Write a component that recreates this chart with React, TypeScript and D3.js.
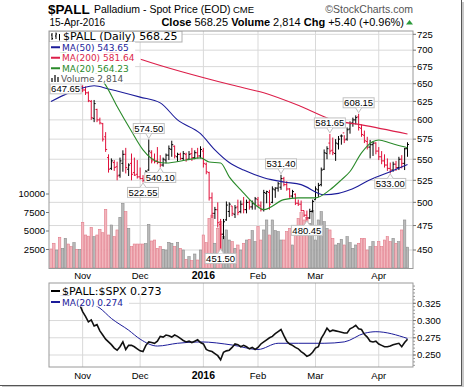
import * as d3 from "d3";

const W = 464;
const H = 387;
const LEFT = 49;
const RIGHT = 413;
const MAIN_TOP = 31;
const MAIN_BOTTOM = 268.5;
const LOW_TOP = 283;
const LOW_BOTTOM = 367;

const RED = "#e0103a";
const NAVY = "#1c1c9a";
const CRIMSON = "#dc1f4a";
const GREEN = "#2a8a2a";
const GRID = "#d9d9d9";
const FRAME = "#9a9a9a";
const SANS = "'Liberation Sans', Arial, sans-serif";
const LEG = "'DejaVu Sans', Verdana, sans-serif";

// daily OHLC, 16-Oct-2015 .. 15-Apr-2016 (125 sessions)
const prevClose = 685;
const opens = [
  684, 680, 675, 682, 678, 686, 692, 688, 681, 684, 670,
  646, 641, 637, 625, 602, 614, 600, 595, 578, 552, 539, 546, 541, 531, 545, 556, 538, 545, 534, 532,
  529, 527, 525, 537, 558, 550, 548, 546, 543, 549, 555, 562, 566, 553, 556, 551, 556, 550, 557, 552, 558, 554,
  560, 544, 534, 505, 488, 492, 476, 466, 481, 490, 496, 487, 495, 490, 498, 492, 500, 495, 498,
  503, 496, 492, 510, 511, 500, 514, 516, 517, 527, 520, 515, 507, 509, 499, 498, 491, 486, 483, 490,
  503, 514, 520, 538, 557, 570, 561, 557, 569, 579, 583, 575, 588, 596, 600, 604, 589, 580, 572, 565, 568, 570,
  560, 553, 548, 543, 539, 537, 544, 540, 550, 545, 563,
];
const highs = [
  692, 686, 688, 686, 692, 698, 696, 690, 690, 686, 677,
  647.65, 646, 639, 627, 627, 615, 603, 596, 584, 556, 551, 549, 547, 552, 561, 564, 545, 557, 552, 549,
  540, 531, 537, 574.5, 561, 557, 565, 555, 552, 557, 567, 573, 567, 558, 558, 560, 558, 560, 564, 561, 564, 566,
  564, 546, 535, 511, 495, 500, 482, 482, 501, 500, 496, 497, 503, 502, 506, 503, 503, 502, 506,
  506, 501, 514, 513, 514, 518, 517, 523, 531.4, 529, 524, 516, 514, 510, 503, 502, 491, 491, 493, 503,
  518, 522, 540, 562, 566, 581.65, 577, 575, 579, 581, 580, 590, 598, 603, 606, 608.15, 594, 586, 578, 574, 572, 571,
  565, 560, 556, 551, 546, 547, 548, 553, 555, 564, 571,
];
const lows = [
  676, 670, 672, 673, 676, 683, 682, 676, 678, 666, 664,
  638, 634, 624, 600, 597, 597, 594, 572, 559, 534, 537, 536, 525, 528, 535, 533, 530, 525, 530, 527,
  526, 522.55, 523, 536, 545, 545, 544, 540.1, 541, 545, 549, 553, 551, 547, 549, 548, 547, 549, 548, 550, 551, 551,
  540, 532, 502, 483, 482, 473, 451.5, 461, 480, 484, 485, 483, 486, 488, 488, 488, 492, 492, 492,
  495, 490, 490, 499, 492, 499, 505, 512, 514, 518, 513, 505, 505, 497, 496, 490, 484, 480.45, 482, 489,
  503, 506, 518, 537, 550, 556, 555, 548, 562, 568, 570, 573, 582, 591, 594, 586, 578, 570, 562, 551, 554, 556,
  549, 544, 540, 536, 533, 535, 536, 537, 539, 537, 553,
];
const closes = [
  680, 675, 682, 678, 686, 692, 688, 681, 684, 670, 672,
  641, 637, 626, 603, 622, 600, 596, 575, 562, 538, 548, 540, 530, 548, 556, 540, 543, 532, 531, 529,
  527, 525, 535, 560, 548, 547, 546, 543, 550, 555, 563, 568, 554, 556, 551, 557, 550, 556, 552, 558, 554, 562,
  545, 535, 505, 488, 492, 478, 466, 479, 497, 498, 488, 494, 489, 498, 492, 500, 495, 499, 504,
  497, 492, 511, 512, 498, 515, 516, 521, 527, 520, 515, 507, 512, 499, 498, 491, 486, 483, 490, 501,
  515, 519, 537, 558, 563, 560, 558, 570, 575, 579, 574, 587, 595, 600, 603, 590, 581, 573, 565, 568, 570, 560,
  553, 548, 543, 539, 537, 544, 540, 550, 545, 562.85, 568.25,
];
const volumes = [
  2570, 3340, 2430, 4150, 2660, 4010, 3240, 2880, 3420, 2520, 2520,
  6170, 4460, 4300, 5500, 4230, 4460, 5230, 4770, 7930, 4460, 5810, 4230, 5140, 6850, 8740, 7610, 5360, 2880, 3240, 3240,
  3240, 3240, 3300, 5900, 3650, 3780, 2660, 2880, 2520, 2430, 3470, 3340, 2880, 3470, 2660, 2430, 1170, 1530, 990, 1890, 1080, 2430,
  4460, 3420, 6710, 7160, 3340, 5360, 6260, 4230, 5140, 3780, 3560, 2660, 3110, 2430, 3340, 3780, 3870, 5050, 3560,
  5590, 3780, 5140, 6490, 4460, 6490, 5050, 4910, 3780, 3780, 4910, 5360, 3110, 4910, 6710, 7480, 6490, 6850, 6040, 7750,
  3780, 6490, 7610, 6260, 5360, 5140, 4010, 3110, 3340, 3870, 3110, 4230, 3420, 2660, 3110, 3340, 4010, 4010, 2430, 2880, 3560, 2880,
  3560, 2880, 3780, 4230, 3560, 4010, 3340, 3560, 5140, 6490, 2814,
];
// $PALL:$SPX ratio, same sessions
const ratio = [
  0.345, 0.343, 0.346, 0.342, 0.34, 0.338, 0.336, 0.333, 0.33, 0.327, 0.323,
  0.313, 0.306, 0.298, 0.301, 0.292, 0.294, 0.285, 0.279, 0.273, 0.269, 0.265, 0.26, 0.257, 0.262, 0.269, 0.258, 0.264, 0.264, 0.262, 0.259,
  0.256, 0.255, 0.264, 0.269, 0.268, 0.267, 0.27, 0.277, 0.276, 0.279, 0.278, 0.276, 0.279, 0.277, 0.274, 0.271, 0.269, 0.27, 0.268, 0.27, 0.272, 0.268,
  0.266, 0.258, 0.256, 0.255, 0.252, 0.249, 0.243, 0.254, 0.256, 0.257, 0.261, 0.266, 0.265, 0.262, 0.264, 0.262, 0.259, 0.261, 0.258,
  0.261, 0.266, 0.269, 0.272, 0.275, 0.277, 0.281, 0.284, 0.287, 0.278, 0.27, 0.266, 0.264, 0.261, 0.259, 0.255, 0.252, 0.248, 0.25, 0.254,
  0.26, 0.262, 0.274, 0.281, 0.289, 0.284, 0.286, 0.285, 0.284, 0.283, 0.282, 0.282, 0.288, 0.29, 0.293, 0.288, 0.287, 0.28, 0.276, 0.27, 0.269, 0.27,
  0.266, 0.264, 0.262, 0.262, 0.263, 0.265, 0.266, 0.267, 0.262, 0.268, 0.273,
];

// moving averages as [session, value]
const ma50 = [[0, 625], [11, 644], [15, 647], [20, 642.5], [31, 631], [38, 623], [44, 600], [52, 582], [57, 561.5], [62, 546], [67, 537], [74, 528], [81, 523], [87, 520], [95, 508.5], [100, 510], [104, 514], [111, 525.5], [118, 535], [124, 543.65]];
const ma200 = [[0, 712], [15, 700], [28, 691], [32, 685], [63, 648], [74, 637], [87, 618], [98, 600], [108, 593.4], [124, 581.64]];
const ma20 = [[0, 700], [10, 688], [15, 668], [19, 648], [23, 618], [28, 585], [32, 561.5], [37, 547], [40, 545.5], [47, 549], [52, 551.7], [55, 546.7], [59, 545.5], [62, 529], [66, 514], [71, 497.4], [74, 492], [81, 503], [86, 505], [92, 505], [97, 514], [101, 525.5], [104, 535.3], [108, 557.8], [112, 572], [114, 574], [118, 570], [122, 566], [124, 564.23]];
const ratioMa = [[0, 0.34], [10, 0.33], [17, 0.318], [21, 0.303], [27, 0.286], [31, 0.273], [37, 0.263], [44, 0.267], [52, 0.269], [63, 0.2645], [72, 0.258], [79, 0.267], [86, 0.267], [95, 0.267], [102, 0.269], [109, 0.2815], [113, 0.2838], [124, 0.274]];

const months = [
  { i: 11, label: "Nov" },
  { i: 31, label: "Dec" },
  { i: 53, label: "2016", bold: true },
  { i: 72, label: "Feb" },
  { i: 92, label: "Mar" },
  { i: 114, label: "Apr" },
];
const priceTicks = [450, 475, 500, 525, 550, 575, 600, 625, 650, 675, 700, 725];
const volTicks = [2500, 5000, 7500, 10000];
const ratioTicks = [0.25, 0.275, 0.3, 0.325];

// swing high / low call-outs; the first one sits tucked under the legend
const notes = [
  { i: 11, v: 647.65, side: "high", dx: -17, tucked: true },
  { i: 34, v: 574.5, side: "high" },
  { i: 32, v: 522.55, side: "low" },
  { i: 38, v: 540.1, side: "low" },
  { i: 59, v: 451.5, side: "low" },
  { i: 80, v: 531.4, side: "high" },
  { i: 89, v: 480.45, side: "low" },
  { i: 97, v: 581.65, side: "high" },
  { i: 107, v: 608.15, side: "high" },
  { i: 118, v: 533.0, side: "low" },
];

const last = (a) => a[a.length - 1][1];

export default function App() {
  const n = closes.length;
  const x = d3.scaleLinear().domain([0, n - 1]).range([51, 407.5]);
  const yP = d3.scaleLog().domain([450, 725]).range([250, 34.3]);
  const yV = d3.scaleLinear().domain([0, 10000]).range([MAIN_BOTTOM - 0.5, 194]);
  const yR = d3.scaleLinear().domain([0.25, 0.325]).range([355, 303.3]);

  const up = closes.map((c, i) => c >= (i ? closes[i - 1] : prevClose));

  const maLine = d3
    .line<number[]>()
    .x((d) => x(d[0]))
    .y((d) => yP(d[1]))
    .curve(d3.curveMonotoneX);
  const ratioLine = d3
    .line<number>()
    .x((d, i) => x(i))
    .y((d) => yR(d));
  const ratioMaLine = d3
    .line<number[]>()
    .x((d) => x(d[0]))
    .y((d) => yR(d[1]))
    .curve(d3.curveMonotoneX);

  const legendRows = [
    { label: `MA(50) ${last(ma50).toFixed(2)}`, color: NAVY },
    { label: `MA(200) ${last(ma200).toFixed(2)}`, color: CRIMSON },
    { label: `MA(20) ${last(ma20).toFixed(2)}`, color: GREEN },
  ];

  return (
    <svg
      width={W}
      height={H}
      style={{ position: "absolute", left: 0, top: 0, background: "#fff" }}
    >
      <defs>
        <clipPath id="mainClip">
          <rect x={LEFT} y={MAIN_TOP} width={RIGHT - LEFT} height={MAIN_BOTTOM - MAIN_TOP} />
        </clipPath>
        <clipPath id="lowClip">
          <rect x={LEFT} y={LOW_TOP} width={RIGHT - LEFT} height={LOW_BOTTOM - LOW_TOP} />
        </clipPath>
      </defs>
      <rect width={W} height={H} fill="#fff" />

      {/* header */}
      <text x={48} y={13.5} fontFamily={SANS} fontWeight="bold" fontSize={13.5}>$PALL</text>
      <text x={94} y={13} fontFamily={SANS} fontSize={10.5}>Palladium - Spot Price (EOD)</text>
      <text x={233} y={13} fontFamily={SANS} fontSize={9.5}>CME</text>
      <text x={413} y={13} fontFamily={SANS} fontSize={10.5} fill="#555" textAnchor="end">
        ©StockCharts.com
      </text>
      <text x={49.5} y={25.5} fontFamily={SANS} fontSize={10}>15-Apr-2016</text>
      <text x={404} y={25.5} fontFamily={SANS} fontSize={11} textAnchor="end">
        <tspan fontWeight="bold">Close</tspan> 568.25 <tspan fontWeight="bold">Volume</tspan> 2,814{" "}
        <tspan fontWeight="bold">Chg</tspan> +5.40 (+0.96%)
      </text>
      <path d="M406,24.5 L409.5,20 L413,24.5 Z" fill="#2a9a3a" />

      {/* main panel */}
      <rect x={LEFT} y={MAIN_TOP} width={RIGHT - LEFT} height={MAIN_BOTTOM - MAIN_TOP} fill="#fff" />
      <g clipPath="url(#mainClip)">
        {priceTicks.map((t) => (
          <line key={t} x1={LEFT} x2={RIGHT} y1={yP(t)} y2={yP(t)} stroke={GRID} />
        ))}
        {months.map((m) => (
          <line key={m.label} x1={x(m.i)} x2={x(m.i)} y1={MAIN_TOP} y2={MAIN_BOTTOM} stroke={GRID} />
        ))}
        {volumes.map((v, i) => (
          <rect
            key={i}
            x={x(i) - 1.2}
            y={yV(v)}
            width={2.4}
            height={yV(0) - yV(v)}
            fill={up[i] ? "#bababa" : "#f2b6bd"}
            stroke={up[i] ? "#8e8e8e" : "#e27b89"}
            strokeWidth={0.6}
          />
        ))}
        {closes.map((c, i) => {
          const cx = x(i);
          return (
            <g key={i} stroke={up[i] ? "#000" : RED} strokeWidth={1}>
              <line x1={cx} x2={cx} y1={yP(highs[i])} y2={yP(lows[i])} />
              <line x1={cx - 1.5} x2={cx} y1={yP(opens[i])} y2={yP(opens[i])} />
              <line x1={cx} x2={cx + 1.5} y1={yP(c)} y2={yP(c)} />
            </g>
          );
        })}
        <path d={maLine(ma200) || ""} fill="none" stroke={CRIMSON} strokeWidth={1.1} />
        <path d={maLine(ma50) || ""} fill="none" stroke={NAVY} strokeWidth={1.1} />
        <path d={maLine(ma20) || ""} fill="none" stroke={GREEN} strokeWidth={1.1} />

        {notes.map((nt, k) => {
          const px = x(nt.i);
          const py = yP(nt.v);
          const bw = 31;
          const bh = 10;
          const cx = px + (nt.dx || 0);
          const high = nt.side === "high";
          const top = nt.tucked ? py - 1.5 : high ? py - 6 - bh : py + 5;
          const base = high ? top + bh : top;
          const tip = high ? py - 1 : py + 0.5;
          const qx = Math.max(cx - bw / 2 + 4, Math.min(cx + bw / 2 - 4, px));
          return (
            <g key={k}>
              <rect x={cx - bw / 2} y={top} width={bw} height={bh} fill="#fff" stroke="#c2c2c2" />
              {!nt.tucked && (
                <path
                  d={`M${qx - 3},${base} L${qx},${tip} L${qx + 3},${base}`}
                  fill="#fff"
                  stroke="#c2c2c2"
                />
              )}
              <text
                x={cx}
                y={top + 8.3}
                textAnchor="middle"
                fontFamily={SANS}
                fontSize={9.5}
              >
                {nt.v.toFixed(2)}
              </text>
            </g>
          );
        })}

        {/* legend */}
        <rect x={LEFT} y={MAIN_TOP} width={133} height={11} fill="#fff" stroke="#b0b0b0" />
        <path
          d="M52,33 V40 M51,35 H52 M52,38.5 H53 M56,32.5 V39 M55,36 H56 M56,34 H57 M59.5,34 V40.5"
          stroke="#000"
          strokeWidth={1}
          fill="none"
        />
        <text x={63} y={40} fontFamily={LEG} fontSize={11}>
          $PALL (Daily) {closes[n - 1].toFixed(2)}
        </text>
        {legendRows.map((r, k) => {
          const base = 50.5 + k * 10.5;
          return (
            <g key={r.label}>
              <rect x={LEFT} y={base - 8.5} width={14 + r.label.length * 5.55} height={10.5} fill="#fff" />
              <line x1={51} x2={60} y1={base - 3.2} y2={base - 3.2} stroke={r.color} strokeWidth={2} />
              <text x={62} y={base} fontFamily={LEG} fontSize={9} fill={r.color}>
                {r.label}
              </text>
            </g>
          );
        })}
        <rect x={LEFT} y={73.5} width={75} height={10} fill="#fff" />
        <path d="M52,82 V78 M55,82 V75 M58,82 V77" stroke="#666" strokeWidth={2} />
        <text x={61} y={82} fontFamily={LEG} fontSize={9} fill="#555">
          Volume {volumes[n - 1].toLocaleString("en-US")}
        </text>
      </g>
      <rect
        x={LEFT}
        y={MAIN_TOP}
        width={RIGHT - LEFT}
        height={MAIN_BOTTOM - MAIN_TOP}
        fill="none"
        stroke={FRAME}
      />
      {priceTicks.map((t) => (
        <g key={t}>
          <line x1={RIGHT} x2={RIGHT + 3} y1={yP(t)} y2={yP(t)} stroke="#777" />
          <text x={RIGHT + 4} y={yP(t) + 3.3} fontFamily={SANS} fontSize={9.5}>
            {t}
          </text>
        </g>
      ))}
      {volTicks.map((t) => (
        <g key={t}>
          <line x1={LEFT - 3} x2={LEFT} y1={yV(t)} y2={yV(t)} stroke="#777" />
          <text x={LEFT - 4} y={yV(t) + 3.3} fontFamily={SANS} fontSize={9.5} textAnchor="end">
            {t}
          </text>
        </g>
      ))}
      {months.map((m) => (
        <text
          key={m.label}
          x={x(m.i)}
          y={279}
          textAnchor="middle"
          fontFamily={SANS}
          fontSize={m.bold ? 10.5 : 9.5}
          fontWeight={m.bold ? "bold" : "normal"}
        >
          {m.label}
        </text>
      ))}

      {/* ratio panel */}
      <rect x={LEFT} y={LOW_TOP} width={RIGHT - LEFT} height={LOW_BOTTOM - LOW_TOP} fill="#fff" />
      <g clipPath="url(#lowClip)">
        {ratioTicks.map((t) => (
          <line key={t} x1={LEFT} x2={RIGHT} y1={yR(t)} y2={yR(t)} stroke={GRID} />
        ))}
        {months.map((m) => (
          <line key={m.label} x1={x(m.i)} x2={x(m.i)} y1={LOW_TOP} y2={LOW_BOTTOM} stroke={GRID} />
        ))}
        <path d={ratioMaLine(ratioMa) || ""} fill="none" stroke={NAVY} strokeWidth={1} />
        <path d={ratioLine(ratio) || ""} fill="none" stroke="#111" strokeWidth={1.6} />
        <rect x={LEFT} y={LOW_TOP} width={118} height={12.5} fill="#fff" />
        <line x1={51} x2={60} y1={291} y2={291} stroke="#000" strokeWidth={2} />
        <text x={62} y={295} fontFamily={LEG} fontSize={11}>
          $PALL:$SPX {ratio[n - 1].toFixed(3)}
        </text>
        <rect x={LEFT} y={295.5} width={80} height={11} fill="#fff" />
        <line x1={51} x2={60} y1={302} y2={302} stroke={NAVY} strokeWidth={2} />
        <text x={62} y={305.5} fontFamily={LEG} fontSize={9} fill={NAVY}>
          MA(20) {last(ratioMa).toFixed(3)}
        </text>
      </g>
      <rect
        x={LEFT}
        y={LOW_TOP}
        width={RIGHT - LEFT}
        height={LOW_BOTTOM - LOW_TOP}
        fill="none"
        stroke={FRAME}
      />
      {d3.range(0.235, 0.355, 0.005).map((t) => (
        <line key={t} x1={RIGHT} x2={RIGHT + 2} y1={yR(t)} y2={yR(t)} stroke="#999" />
      ))}
      {ratioTicks.map((t) => (
        <g key={t}>
          <line x1={RIGHT} x2={RIGHT + 3} y1={yR(t)} y2={yR(t)} stroke="#777" />
          <text x={RIGHT + 4} y={yR(t) + 3.3} fontFamily={SANS} fontSize={9.5}>
            {t.toFixed(3)}
          </text>
        </g>
      ))}
      {months.map((m) => (
        <text
          key={m.label}
          x={x(m.i)}
          y={378.5}
          textAnchor="middle"
          fontFamily={SANS}
          fontSize={m.bold ? 10.5 : 9.5}
          fontWeight={m.bold ? "bold" : "normal"}
        >
          {m.label}
        </text>
      ))}

      {/* frame with shadow */}
      <rect x={462} y={2} width={2} height={385} fill="#c8c8c8" />
      <rect x={2} y={386} width={462} height={1} fill="#c8c8c8" />
      <line x1={0} x2={462} y1={385.5} y2={385.5} stroke="#555" />
      <line x1={461.5} x2={461.5} y1={0} y2={386} stroke="#555" />
    </svg>
  );
}
